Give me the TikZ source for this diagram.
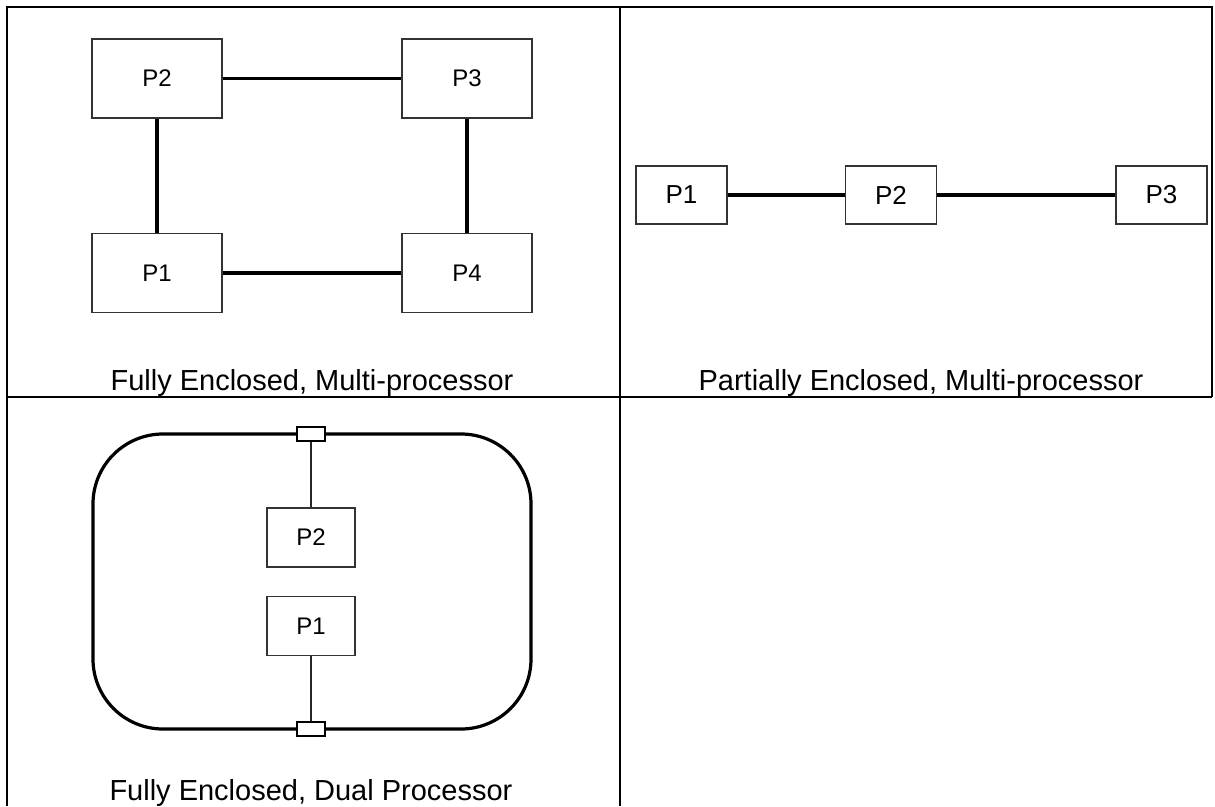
\documentclass[tikz,border=0pt]{standalone}
\usepackage{fontspec}
\setmainfont{Liberation Sans}
\usepackage{tikz}

\begin{document}
\begin{tikzpicture}[x=1pt,y=1pt,
    proc/.style={draw=black!80,line width=1.2pt,fill=white,inner sep=0pt},
    link/.style={line width=3.6pt},
    wire/.style={line width=1.2pt,black!85},
    port/.style={draw,line width=1.6pt,fill=white,inner sep=0pt,minimum width=28,minimum height=14},
    caption/.style={anchor=base,inner sep=0pt,font=\fontsize{29}{34}\selectfont}]
  \useasboundingbox (0,0) rectangle (1215,-806);
  % table
  \draw[line width=2.4pt] (7,-806) -- (7,-7) -- (1212,-7) -- (1212,-397);
  \draw[line width=2.4pt] (7,-397) -- (1212,-397);
  \draw[line width=2.4pt] (620,-7) -- (620,-806);

  % fully enclosed, multi-processor
  \begin{scope}[every node/.append style={minimum width=130,minimum height=79,font=\fontsize{24}{29}\selectfont}]
    \node[proc] (fp2) at (157,-78.5) {P2};
    \node[proc] (fp3) at (467,-78.5) {P3};
    \node[proc] (fp1) at (157,-273) {P1};
    \node[proc] (fp4) at (467,-273) {P4};
  \end{scope}
  \draw[link] (fp2.east) -- (fp3.west);
  \draw[link] (fp1.east) -- (fp4.west);
  \draw[link] (fp2.south) -- (fp1.north);
  \draw[link] (fp3.south) -- (fp4.north);
  \node[caption] (fcap) at (312,-390) {Fully Enclosed, Multi-processor};

  % partially enclosed, multi-processor
  \begin{scope}[every node/.append style={minimum width=91,minimum height=58,font=\fontsize{26}{31}\selectfont}]
    \node[proc] (pp1) at (681.5,-195) {P1};
    \node[proc] (pp2) at (891,-195) {P2};
    \node[proc] (pp3) at (1161.5,-195) {P3};
  \end{scope}
  \draw[link] (pp1.east) -- (pp2.west);
  \draw[link] (pp2.east) -- (pp3.west);
  \node[caption] (pcap) at (921,-390) {Partially Enclosed, Multi-processor};

  % fully enclosed, dual processor
  \draw[line width=3.2pt,rounded corners=70] (93,-434) rectangle (531,-729);
  \node[port] (top) at (311,-434) {};
  \node[port] (bot) at (311,-729) {};
  \begin{scope}[every node/.append style={minimum width=88,minimum height=59,font=\fontsize{24}{29}\selectfont}]
    \node[proc] (dp2) at (311,-537.5) {P2};
    \node[proc] (dp1) at (311,-626) {P1};
  \end{scope}
  \draw[wire] (top.south) -- (dp2.north);
  \draw[wire] (dp1.south) -- (bot.north);
  \node[caption] (dcap) at (311,-800) {Fully Enclosed, Dual Processor};
\end{tikzpicture}
\end{document}
